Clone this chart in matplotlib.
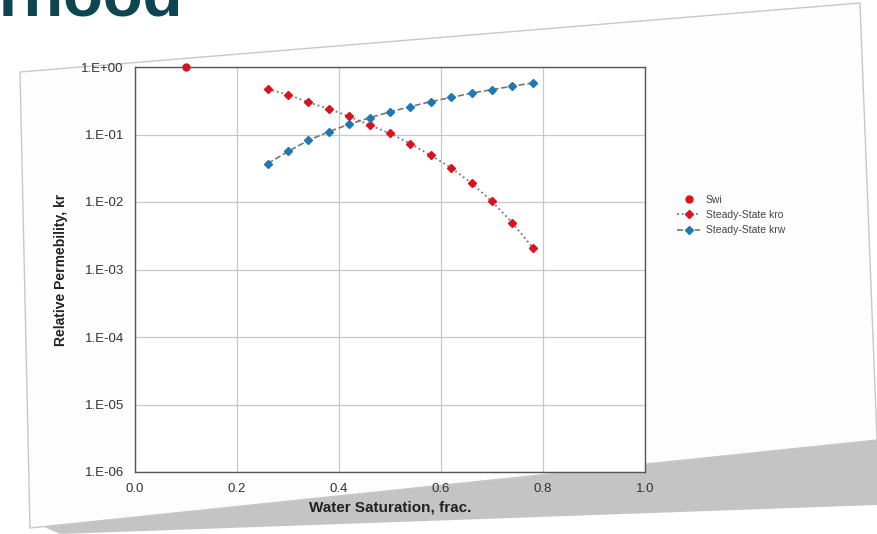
import matplotlib
matplotlib.use("Agg")
import matplotlib.pyplot as plt
from matplotlib.patches import Polygon
from matplotlib.ticker import FixedLocator, FixedFormatter

plt.rcParams['font.family'] = ['Liberation Sans', 'DejaVu Sans']

# ---- data ----
swi_x = [0.10]
swi_y = [1.0]
sw = [0.26, 0.30, 0.34, 0.38, 0.42, 0.46, 0.50, 0.54, 0.58, 0.62, 0.66, 0.70, 0.74, 0.78]
kro = [0.47, 0.39, 0.30, 0.24, 0.185, 0.138, 0.104, 0.073, 0.049, 0.032, 0.019, 0.0102, 0.0049, 0.0021]
krw = [0.037, 0.056, 0.082, 0.11, 0.142, 0.177, 0.216, 0.259, 0.307, 0.354, 0.41, 0.463, 0.52, 0.58]
x_ticks = [0.0, 0.2, 0.4, 0.6, 0.8, 1.0]
x_tick_labels = ["0.0", "0.2", "0.4", "0.6", "0.8", "1.0"]
y_ticks = [1e-6, 1e-5, 1e-4, 1e-3, 1e-2, 1e-1, 1e0]
y_tick_labels = ["1.E-06", "1.E-05", "1.E-04", "1.E-03", "1.E-02", "1.E-01", "1.E+00"]

W, H = 877, 534
fig = plt.figure(figsize=(W / 100, H / 100), dpi=100)
fig.patch.set_facecolor("white")

def fp(pts):
    return [(x / W, 1 - y / H) for x, y in pts]

# background card shadow and card
shadow = Polygon(fp([(40, 525), (877, 440), (877, 505), (60, 534)]), closed=True,
                 transform=fig.transFigure, facecolor="#c4c4c4", edgecolor="none", zorder=-2)
fig.patches.append(shadow)
card = Polygon(fp([(20, 72), (860, 3), (877, 440), (30, 528)]), closed=True,
               transform=fig.transFigure, facecolor="#fdfdfd", edgecolor="#c8c8c8",
               linewidth=1.0, zorder=-1)
fig.patches.append(card)

# cropped slide title fragment
fig.text(-0.002, 1 - 16 / H, "rhood", fontsize=47, fontweight="bold",
         color="#0d4650", ha="left", va="baseline")

ax = fig.add_axes([135 / W, 1 - 472 / H, 510 / W, 405 / H])
ax.set_zorder(3)
ax.set_facecolor("white")
ax.set_yscale("log")
ax.set_xlim(0, 1)
ax.set_ylim(1e-6, 1)

ax.grid(True, which="major", color="#c9c9c9", linewidth=0.9)
ax.set_axisbelow(True)
ax.yaxis.set_major_locator(FixedLocator(y_ticks))
ax.yaxis.set_major_formatter(FixedFormatter(y_tick_labels))
ax.yaxis.set_minor_locator(FixedLocator([]))
ax.set_xticks(x_ticks)
ax.set_xticklabels(x_tick_labels)
ax.tick_params(length=0, labelsize=9.5, colors="#333333", pad=8)
for s in ax.spines.values():
    s.set_color("#555555")
    s.set_linewidth(1.0)

red = "#d8131f"
blue = "#1f78b4"
ax.plot(swi_x, swi_y, "o", color=red, markersize=5, linestyle="none", label="Swi",
        clip_on=False, zorder=4)
ax.plot(sw, kro, linestyle=":", color="#777777", linewidth=1.3, marker="D",
        markersize=4.2, markerfacecolor=red, markeredgecolor=red,
        label="Steady-State kro", zorder=3)
ax.plot(sw, krw, linestyle="--", color="#777777", linewidth=1.2, marker="D",
        markersize=4.2, markerfacecolor=blue, markeredgecolor=blue,
        label="Steady-State krw", zorder=3)

ax.set_xlabel("Water Saturation, frac.", fontsize=11, fontweight="bold", color="#222222",
              labelpad=4)
ax.set_ylabel("Relative Permebility, kr", fontsize=10, fontweight="bold", color="#222222",
              labelpad=10)

leg = fig.legend(loc="center left", bbox_to_anchor=(668 / W, 1 - 215 / H), frameon=False,
                 fontsize=7.5, handlelength=2.2, labelspacing=0.5, handletextpad=0.5)
leg.set_zorder(4)
for t in leg.get_texts():
    t.set_color("#444444")

fig.savefig("out.png", dpi=100)
